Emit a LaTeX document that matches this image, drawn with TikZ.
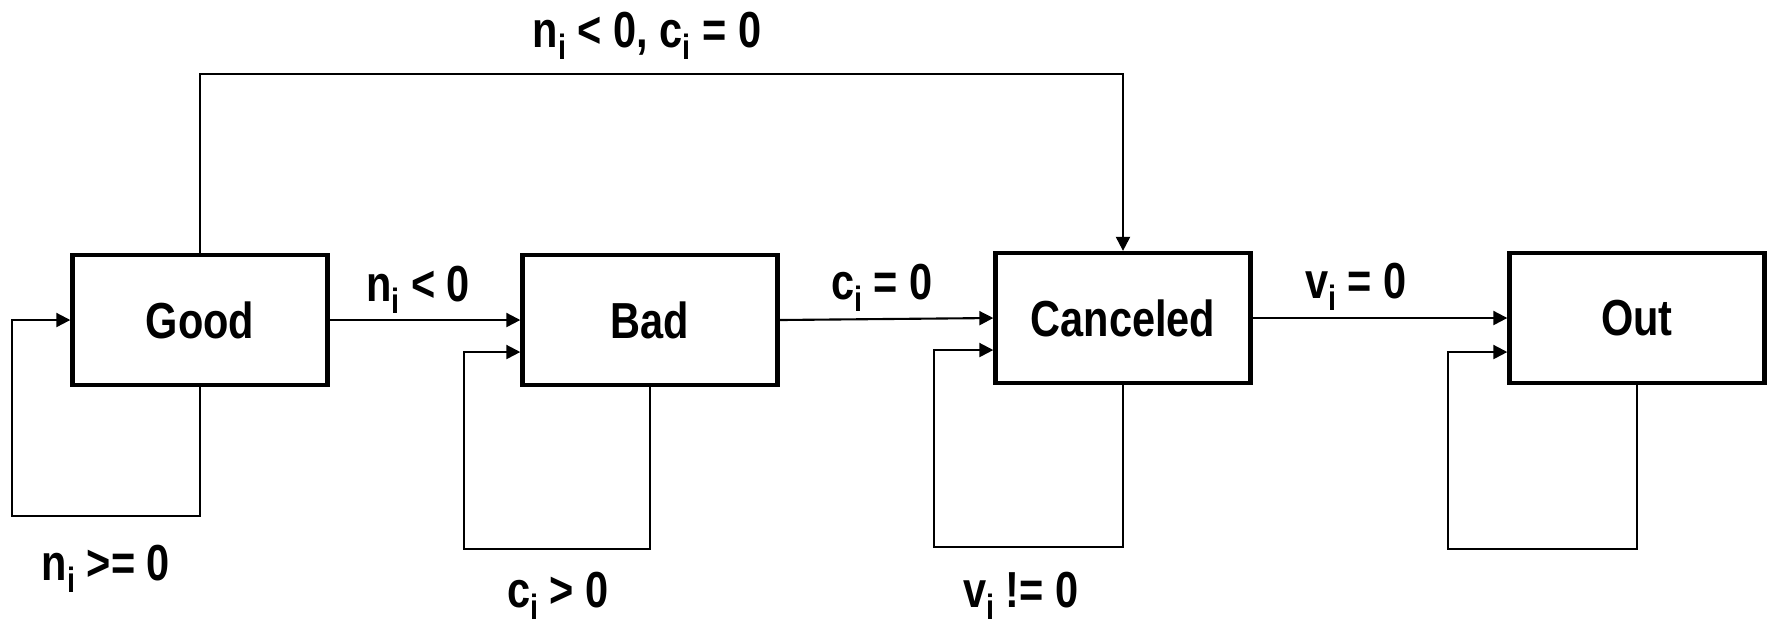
\documentclass[tikz,border=0pt]{standalone}
\usepackage{fontspec}
\setmainfont{Liberation Sans}[FakeStretch=0.82]
\usetikzlibrary{arrows.meta}
\newcommand{\ix}{\raisebox{-0.25em}{\fontsize{10}{10}\selectfont i}}

\begin{document}
\begin{tikzpicture}[x=0.01cm,y=-0.01cm,
  statebox/.style={draw,line width=1.2pt,minimum width=2.55cm,minimum height=1.30cm,
    inner sep=0pt,font=\fontsize{14.4}{17}\selectfont\bfseries},
  cond/.style={anchor=base,inner sep=0pt,font=\fontsize{14.4}{17}\selectfont\bfseries},
  flow/.style={line width=0.6pt,-{Triangle[length=1.4mm,width=1.4mm]}}]
\path[use as bounding box] (0,0) rectangle (1767,626);
% states
\node[statebox] (good) at (200,320) {Good};
\node[statebox] (bad) at (650,320) {Bad};
\node[statebox] (cancel) at (1123,318) {Canceled};
\node[statebox] (out) at (1637,318) {Out};
% loop corners and top rail
\coordinate (goodcorner) at (12,516);
\coordinate (badcorner) at (464,549);
\coordinate (cancelcorner) at (934,547);
\coordinate (outcorner) at (1448,549);
\coordinate (toprail) at (660,74);
% transitions
\draw[flow] (good.east) -- (bad.west);
\draw[flow] (bad.east) -- (cancel.west);
\draw[flow] (cancel.east) -- (out.west);
\draw[flow] (good.north) |- (toprail) -| (cancel.north);
\draw[flow] (good.south) |- (goodcorner) |- (good.west);
\draw[flow] (bad.south) |- (badcorner) |- ([yshift=-0.32cm]bad.west);
\draw[flow] (cancel.south) |- (cancelcorner) |- ([yshift=-0.32cm]cancel.west);
\draw[flow] (out.south) |- (outcorner) |- ([yshift=-0.34cm]out.west);
% conditions
\node[cond] (toplbl) at (647,47) {n\ix{}  < 0, c\ix{} = 0};
\node[cond] (gblbl) at (418,301) {n\ix{} < 0};
\node[cond] (bclbl) at (882,299) {c\ix{} = 0};
\node[cond] (colbl) at (1356,298) {v\ix{} = 0};
\node[cond] (goodlbl) at (106,580) {n\ix{} >= 0};
\node[cond] (badlbl) at (558,607) {c\ix{} > 0};
\node[cond] (cancellbl) at (1021,607) {v\ix{} != 0};
\end{tikzpicture}
\end{document}
